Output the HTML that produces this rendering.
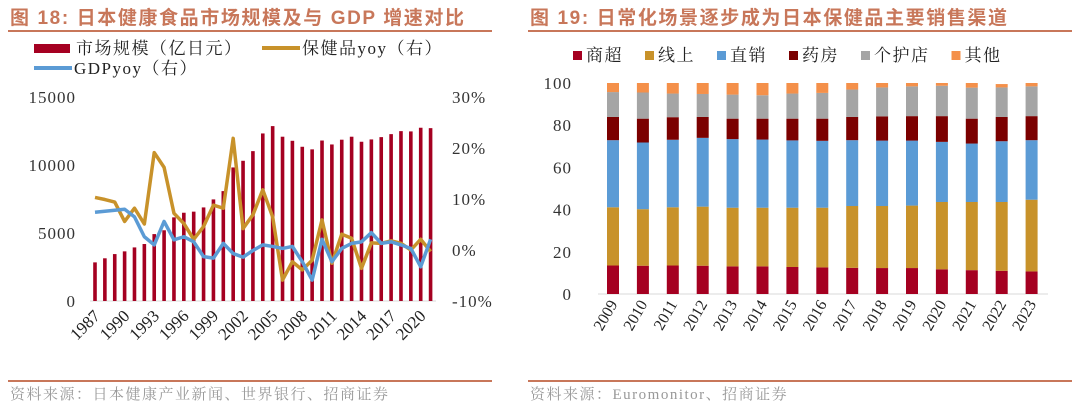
<!DOCTYPE html>
<html><head><meta charset="utf-8"><style>
body{margin:0;width:1080px;height:407px;background:#fff;overflow:hidden;font-family:"Liberation Serif","Noto Serif CJK SC",serif}
svg{position:absolute;left:0;top:0}
</style></head><body>
<svg width="1080" height="407">
<g>
<text x="10" y="24" font-family="Liberation Sans,Noto Sans CJK SC,sans-serif" font-weight="bold" font-size="19" letter-spacing="1.6" fill="#c8775a">图 18:  日本健康食品市场规模及与 GDP 增速对比</text>
<line x1="8" y1="31" x2="492" y2="31" stroke="#c8775a" stroke-width="2"/>
</g>
<g>
<text x="530" y="24" font-family="Liberation Sans,Noto Sans CJK SC,sans-serif" font-weight="bold" font-size="19" letter-spacing="1.6" fill="#c8775a">图 19:  日常化场景逐步成为日本保健品主要销售渠道</text>
<line x1="528" y1="31" x2="1072" y2="31" stroke="#c8775a" stroke-width="2"/>
</g>
<line x1="8" y1="381" x2="492" y2="381" stroke="#c8775a" stroke-width="2"/>
<line x1="528" y1="381" x2="1072" y2="381" stroke="#c8775a" stroke-width="2"/>
<text x="10" y="399" font-size="15" letter-spacing="1.5" fill="#999">资料来源：日本健康产业新闻、世界银行、招商证券</text>
<text x="530" y="399" font-size="15" letter-spacing="1.5" fill="#999">资料来源：Euromonitor、招商证券</text>
<g font-size="17" fill="#222" letter-spacing="1.5">
<rect x="34" y="44" width="36" height="9" fill="#a50021"/>
<text x="76" y="54">市场规模（亿日元）</text>
<line x1="262" y1="48" x2="300" y2="48" stroke="#c8922a" stroke-width="4"/>
<text x="302" y="54">保健品yoy（右）</text>
<line x1="34" y1="68" x2="72" y2="68" stroke="#5b9bd5" stroke-width="4"/>
<text x="74" y="74">GDPyoy（右）</text>
</g>
<g id="left"></g>
<g id="right"></g>
</svg>
<script>
const years=[];for(let y=1987;y<=2021;y++)years.push(y);
const xTickLabels=["1987","1990","1993","1996","1999","2002","2005","2008","2011","2014","2017","2020"];
const leftTicks=[0,5000,10000,15000];
const rightTicks=["-10%","0%","10%","20%","30%"];
const marketSize=[2840,3140,3450,3650,3940,4190,4920,5200,6150,6490,6570,6880,7470,8080,9820,10310,11020,12320,12860,12080,11780,11340,11150,11800,11510,11860,12080,11710,11880,12050,12270,12490,12470,12740,12710];
const healthYoy=[10.3,9.9,9.4,5.6,8.2,5.1,19.1,16.2,7.2,5.2,2.1,4.6,8.8,8.2,21.9,4.2,6.9,11.8,6.5,-5.9,-2.3,-3.9,-2.0,5.9,-2.6,3.1,2.3,-3.6,1.4,1.3,1.8,1.3,0,2.1,-0.3];
const gdpYoy=[7.4,7.6,7.8,8.0,6.5,2.6,1.0,5.6,2.0,2.6,1.6,-1.3,-1.6,1.3,-0.7,-1.4,-0.1,1.0,0.7,0.3,0.7,-2.3,-5.9,2.1,-2.3,0.3,1.3,1.6,3.4,1.3,1.6,1.0,0.3,-3.3,2.1];

const NS='http://www.w3.org/2000/svg';
function mk(p,t,a){const e=document.createElementNS(NS,t);for(const k in a)e.setAttribute(k,a[k]);p.appendChild(e);return e;}
const L=document.getElementById('left');
const x0=95,dx=9.87,baseY=301,topY=97;
const yL=v=>baseY-v/15000*(baseY-topY);
const yR=p=>baseY-(p+10)/40*(baseY-topY);
const xL=i=>x0+i*dx;
const ax=mk(L,'line',{x1:90,x2:436,y1:baseY,y2:baseY,stroke:'#d9d9d9','stroke-width':1});


leftTicks.forEach(v=>{const t=mk(L,'text',{x:76,y:yL(v)+6,'text-anchor':'end','font-size':17,fill:'#333','letter-spacing':1});t.textContent=v;

});
rightTicks.forEach((s,i)=>{const t=mk(L,'text',{x:452,y:yR(-10+i*10)+6,'font-size':17,fill:'#333','letter-spacing':1});t.textContent=s;

});
marketSize.forEach((v,i)=>{const r=mk(L,'rect',{x:xL(i)-1.8,y:yL(v),width:3.6,height:baseY-yL(v),fill:'#a50021'});

});
function drawLine(arr,col,name){const p=mk(L,'polyline',{points:arr.map((v,i)=>xL(i)+','+yR(v)).join(' '),fill:'none',stroke:col,'stroke-width':3.5,'stroke-linejoin':'round'});

}
drawLine(healthYoy,'#c8922a','line-health-yoy');
drawLine(gdpYoy,'#5b9bd5','line-gdp-yoy');
xTickLabels.forEach(s=>{const i=years.indexOf(+s);const x=xL(i)+6,y=baseY+16;
const t=mk(L,'text',{x:x,y:y,'text-anchor':'end','font-size':17,fill:'#222',transform:`rotate(-45 ${x} ${y})`});t.textContent=s;

});

const rYears=["2009","2010","2011","2012","2013","2014","2015","2016","2017","2018","2019","2020","2021","2022","2023"];
const seriesNames=["商超","线上","直销","药房","个护店","其他"];
const colors=["#a50021","#c8922a","#5b9bd5","#7b0000","#a5a5a5","#f4904a"];
const sSupermarket=[13.5,13.4,13.5,13.4,13.1,13.1,12.8,12.6,12.4,12.3,12.3,11.7,11.3,11.0,10.7];
const sOnline=[27.6,26.8,27.6,28.0,27.8,27.8,28.1,28.3,29.3,29.4,29.6,31.9,32.3,32.6,34.0];
const sDirect=[31.8,31.6,32.0,32.6,32.5,32.3,31.9,31.7,31.2,31.0,30.8,28.5,27.7,28.8,28.2];
const sPharmacy=[11.0,11.3,10.7,9.9,9.7,9.9,10.3,10.5,11.0,11.5,11.6,12.2,11.8,11.5,11.4];
const sPersonalCare=[11.8,12.4,11.2,10.9,11.4,11.1,11.9,12.2,13.0,13.7,14.1,14.4,14.7,14.0,14.1];
const sOther=[4.3,4.5,5.0,5.2,5.5,5.8,5.0,4.7,3.1,2.1,1.6,1.3,2.2,1.6,1.6];
const rTicks=[0,20,40,60,80,100];
const R=document.getElementById('right');
const rb=294,rt=83,rx0=613,rdx=29.9;
const yS=v=>rb-v/100*(rb-rt);
const ax2=mk(R,'line',{x1:598,x2:1048,y1:rb,y2:rb,stroke:'#d9d9d9','stroke-width':1});


rTicks.forEach(v=>{const t=mk(R,'text',{x:572,y:yS(v)+6,'text-anchor':'end','font-size':17,fill:'#333','letter-spacing':1});t.textContent=v;

});
const all=[sSupermarket,sOnline,sDirect,sPharmacy,sPersonalCare,sOther];
rYears.forEach((yr,i)=>{let acc=0;const cx=rx0+i*rdx;
all.forEach((s,k)=>{const r=mk(R,'rect',{x:cx-6,y:yS(acc+s[i]),width:12,height:yS(acc)-yS(acc+s[i]),fill:colors[k]});

acc+=s[i];});
const x=cx+5,y=rb+10;const t=mk(R,'text',{x:x,y:y,'text-anchor':'end','font-size':16,fill:'#222',transform:`rotate(-60 ${x} ${y})`});t.textContent=yr;

});
let lx=573;
seriesNames.forEach((n,k)=>{const r=mk(R,'rect',{x:lx,y:51,width:9,height:9,fill:colors[k]});


const t=mk(R,'text',{x:lx+13,y:61,'font-size':17,fill:'#222','letter-spacing':1.5});t.textContent=n;


lx+=13+n.length*18.5+22;});
</script>
</body></html>
